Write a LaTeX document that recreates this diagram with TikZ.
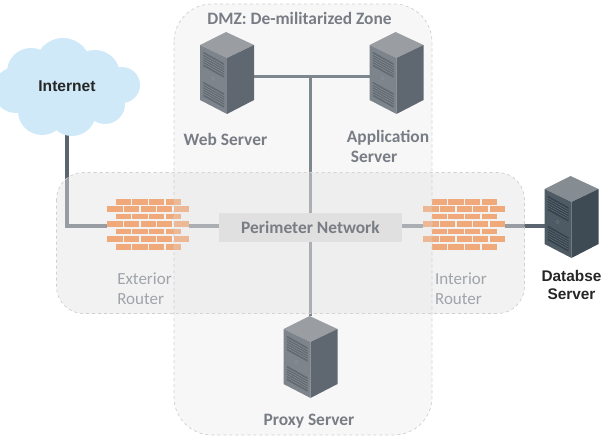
\documentclass[tikz,border=0pt]{standalone}
\usepackage{fontspec}
\setmainfont{Carlito}
\newfontfamily\dbfont{Liberation Sans}
\definecolor{linkgray}{HTML}{5A6570}
\definecolor{zonegray}{RGB}{226,226,226}
\definecolor{zoneedge}{HTML}{CFCFCF}
\definecolor{brickorange}{HTML}{F0A97A}
\definecolor{cloudblue}{HTML}{CFE9F8}
\definecolor{boxgray}{HTML}{E0E0E0}
\definecolor{labelgray}{HTML}{787D85}
\definecolor{routergray}{HTML}{A0A4AA}
\definecolor{srvtop}{HTML}{9A9EA3}
\definecolor{srvfront}{HTML}{7D848B}
\definecolor{srvside}{HTML}{5F6870}
\definecolor{srvvent}{HTML}{626A72}
\definecolor{srvstripe}{HTML}{8A9096}
\definecolor{dbtop}{HTML}{868D92}
\definecolor{dbfront}{HTML}{4F5B64}
\definecolor{dbside}{HTML}{3E4A54}
\definecolor{dbvent}{HTML}{36424C}
\definecolor{dbstripe}{HTML}{66717A}
\pgfdeclarelayer{linklayer}
\pgfdeclarelayer{perimlayer}
\pgfdeclarelayer{bricklayer}
\pgfdeclarelayer{dmzlayer}
\pgfsetlayers{linklayer,perimlayer,bricklayer,dmzlayer,main}
\tikzset{
  spot/.style={inner sep=0pt,outer sep=0pt,minimum width=54pt,minimum height=89pt},
  wallspot/.style={inner sep=0pt,outer sep=0pt,minimum width=82pt,minimum height=52pt},
  link/.style={draw=linkgray,line width=3.6pt},
  zone/.style={fill=zonegray,draw=zoneedge,dashed,line width=0.7pt},
  label/.style={text=labelgray,font=\bfseries\fontsize{17.4}{20}\selectfont,inner sep=0pt},
  router/.style={text=routergray,font=\fontsize{17}{20}\selectfont,inner sep=0pt,align=left},
  blackbold/.style={text=black!85,font=\dbfont\bfseries\fontsize{15.4}{18}\selectfont,inner sep=0pt,align=center}
}
\newcommand{\rackserver}[6]{
  \begin{scope}[shift={(#1)}]
    \fill[#2] (-1,-44.5) -- (27,-31.5) -- (0,-18.5) -- (-27,-31.5) -- cycle;
    \fill[#3] (-27,-31.5) -- (0,-18.5) -- (0,37.5) -- (-27,23.5) -- cycle;
    \fill[#4] (27,-31.5) -- (0,-18.5) -- (0,37.5) -- (27,23.5) -- cycle;
    \foreach \ytop in {-24.8,5.2} {
      \fill[#5] (-23.7,\ytop) -- (-3,\ytop+11.6) -- (-3,\ytop+26) -- (-23.7,\ytop+14.6) -- cycle;
      \foreach \k in {1,...,5}
        \draw[#6,line width=0.5pt] (-23.7,\ytop+2.4*\k) -- (-3,\ytop+11.6+2.4*\k);
    }
    \draw[#6,line width=0.5pt] (-14,1.5) circle[radius=1.8];
  \end{scope}
}
\newcommand{\brickwall}[1]{
  \begin{scope}[shift={(#1)}]
    \foreach \ypos in {-24.3,-9.5,5.5,20.7}
      \foreach \k in {0,...,3}
        \fill[brickorange] (-32.3+16.6*\k,\ypos-2.9) rectangle ++(15.2,5.8);
    \foreach \ypos in {-16.7,-2,13}
      \foreach \k in {0,...,4}
        \fill[brickorange] (-40.7+16.6*\k,\ypos-2.9) rectangle ++(15.2,5.8);
  \end{scope}
}
\begin{document}
\begin{tikzpicture}[x=1pt,y=-1pt,line join=round]
  \useasboundingbox (0,0) rectangle (607,436);
  \foreach \cx/\cy/\rad in {63/66/28,31/72/24,16/90/23,42/111/24,72/112/24,105/104/20,122/85/18,95/75/25,67/90/35}
    \fill[cloudblue] (\cx,\cy) circle[radius=\rad];
  \node[blackbold,font=\dbfont\bfseries\fontsize{15.6}{18}\selectfont,minimum height=98pt] (internet) at (67,86) {Internet};
  \node[spot] (web) at (227,76.5) {};
  \node[spot] (app) at (396.5,76.5) {};
  \node[spot] (proxy) at (310.5,360.5) {};
  \node[spot] (db) at (571.5,220.5) {};
  \node[wallspot] (extwall) at (148,226) {};
  \node[wallspot] (intwall) at (464,226) {};
  \node[fill=boxgray,minimum width=183pt,minimum height=29pt,inner sep=0pt,text=labelgray,font=\bfseries\fontsize{17.4}{20}\selectfont] (perimeter) at (310.5,227.2) {Perimeter Network};
  \rackserver{web}{srvtop}{srvfront}{srvside}{srvvent}{srvstripe}
  \rackserver{app}{srvtop}{srvfront}{srvside}{srvvent}{srvstripe}
  \rackserver{proxy}{srvtop}{srvfront}{srvside}{srvvent}{srvstripe}
  \rackserver{db}{dbtop}{dbfront}{dbside}{dbvent}{dbstripe}
  \node[label] (dmz) at (299.5,18.5) {DMZ: De-militarized Zone};
  \node[label] (webname) at (225.5,139) {Web Server};
  \node[label,align=left] (appname) at (388,146) {Application\\\hspace*{4pt}Server};
  \node[label] (proxyname) at (309,421) {Proxy Server};
  \node[router] (extname) at (144.5,289) {Exterior\\Router};
  \node[router] (intname) at (461,289) {Interior\\Router};
  \node[blackbold] (dbname) at (571.5,285) {Databse\\Server};
  \begin{pgfonlayer}{linklayer}
    \draw[link] (internet.south) |- (extwall.west);
    \draw[link] (extwall.east) -- (perimeter.west |- extwall);
    \draw[link] (perimeter.east |- intwall) -- (intwall.west);
    \draw[link] (intwall.east) -- (db.west |- intwall);
    \draw[link] (web.east) -- (app.west);
    \draw[link] (perimeter.north |- web) -- (perimeter.north);
    \draw[link] (perimeter.south) -- (proxy.north);
  \end{pgfonlayer}
  \begin{pgfonlayer}{perimlayer}
    \draw[zone,fill opacity=0.45,rounded corners=27pt] (56.5,172.5) rectangle (524.5,313.5);
  \end{pgfonlayer}
  \begin{pgfonlayer}{bricklayer}
    \brickwall{extwall}
    \brickwall{intwall}
  \end{pgfonlayer}
  \begin{pgfonlayer}{dmzlayer}
    \draw[zone,fill opacity=0.27,rounded corners=38pt] (174,4) rectangle (432,435);
  \end{pgfonlayer}
\end{tikzpicture}
\end{document}
